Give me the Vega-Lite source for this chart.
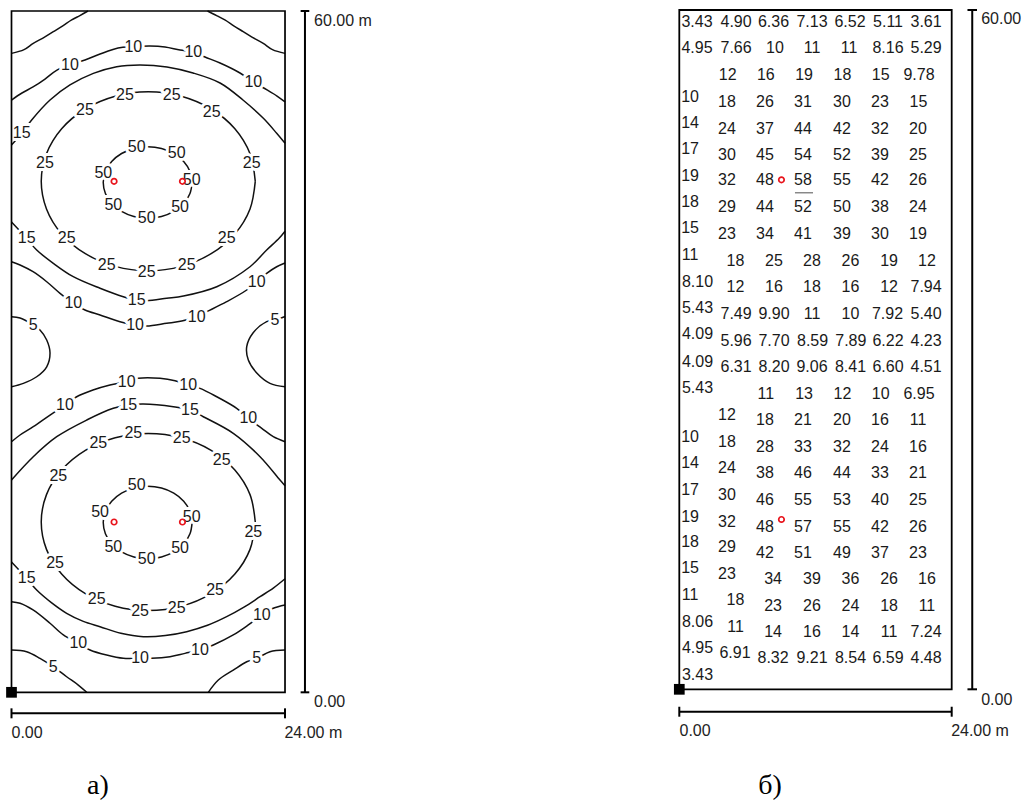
{
"$schema": "https://vega.github.io/schema/vega-lite/v6.json",
"padding": 0,
"spacing": 0,
"bounds": "flush",
"background": "white",
"config": {"view": {"stroke": null}},
"datasets": {
"contA": [
{"c":"t5l","o":1,"x":0,"y":56.27},{"c":"t5l","o":2,"x":1.1,"y":56.6},{"c":"t5l","o":3,"x":1.91,"y":57.15},{"c":"t5l","o":4,"x":2.9,"y":57.7},{"c":"t5l","o":5,"x":3.67,"y":58.18},{"c":"t5l","o":6,"x":4.5,"y":58.7},{"c":"t5l","o":7,"x":5.28,"y":59.21},{"c":"t5l","o":8,"x":6.0,"y":59.6},{"c":"t5l","o":9,"x":6.71,"y":60},
{"c":"t5r","o":1,"x":17.2,"y":60},{"c":"t5r","o":2,"x":18.0,"y":59.6},{"c":"t5r","o":3,"x":18.72,"y":59.21},{"c":"t5r","o":4,"x":19.5,"y":58.7},{"c":"t5r","o":5,"x":20.33,"y":58.18},{"c":"t5r","o":6,"x":21.1,"y":57.7},{"c":"t5r","o":7,"x":22.09,"y":57.15},{"c":"t5r","o":8,"x":22.9,"y":56.6},{"c":"t5r","o":9,"x":24,"y":56.27},
{"c":"t10","o":1,"x":0,"y":52.16},{"c":"t10","o":2,"x":0.92,"y":52.78},{"c":"t10","o":3,"x":1.89,"y":53.31},{"c":"t10","o":4,"x":2.94,"y":54.01},{"c":"t10","o":5,"x":3.99,"y":54.8},{"c":"t10","o":6,"x":5.13,"y":55.25},{"c":"t10","o":7,"x":6.45,"y":55.68},{"c":"t10","o":8,"x":7.77,"y":56.21},{"c":"t10","o":9,"x":9.35,"y":56.74},{"c":"t10","o":10,"x":10.66,"y":56.86},{"c":"t10","o":11,"x":12.15,"y":56.92},{"c":"t10","o":12,"x":13.47,"y":56.83},{"c":"t10","o":13,"x":14.79,"y":56.56},{"c":"t10","o":14,"x":15.93,"y":56.39},{"c":"t10","o":15,"x":16.98,"y":55.95},{"c":"t10","o":16,"x":18.3,"y":55.42},{"c":"t10","o":17,"x":20.05,"y":54.54},{"c":"t10","o":18,"x":21.19,"y":53.75},{"c":"t10","o":19,"x":22.42,"y":53.05},{"c":"t10","o":20,"x":23.3,"y":52.51},{"c":"t10","o":21,"x":24,"y":51.99},
{"c":"t15a","o":1,"x":0,"y":48.2},{"c":"t15a","o":2,"x":0.9,"y":49.23},{"c":"t15a","o":3,"x":1.77,"y":50.4},{"c":"t15a","o":4,"x":3.38,"y":52.16},{"c":"t15a","o":5,"x":5.13,"y":53.49},{"c":"t15a","o":6,"x":7.18,"y":54.51},{"c":"t15a","o":7,"x":9.23,"y":55.1},{"c":"t15a","o":8,"x":11.28,"y":55.25},{"c":"t15a","o":9,"x":13.64,"y":55.07},{"c":"t15a","o":10,"x":15.93,"y":54.54},{"c":"t15a","o":11,"x":18.3,"y":53.66},{"c":"t15a","o":12,"x":20.31,"y":52.16},{"c":"t15a","o":13,"x":22.1,"y":50.55},{"c":"t15a","o":14,"x":23.27,"y":49.23},{"c":"t15a","o":15,"x":24,"y":48.35},
{"c":"t25","o":1,"x":21.39,"y":45},{"c":"t25","o":2,"x":20.93,"y":47.43},{"c":"t25","o":3,"x":19.6,"y":49.63},{"c":"t25","o":4,"x":17.52,"y":51.37},{"c":"t25","o":5,"x":14.9,"y":52.49},{"c":"t25","o":6,"x":12,"y":52.88},{"c":"t25","o":7,"x":9.1,"y":52.49},{"c":"t25","o":8,"x":6.48,"y":51.37},{"c":"t25","o":9,"x":4.4,"y":49.63},{"c":"t25","o":10,"x":3.07,"y":47.43},{"c":"t25","o":11,"x":2.61,"y":45},{"c":"t25","o":12,"x":3.07,"y":42.57},{"c":"t25","o":13,"x":4.4,"y":40.37},{"c":"t25","o":14,"x":6.48,"y":38.63},{"c":"t25","o":15,"x":9.1,"y":37.51},{"c":"t25","o":16,"x":12,"y":37.12},{"c":"t25","o":17,"x":14.9,"y":37.51},{"c":"t25","o":18,"x":17.52,"y":38.63},{"c":"t25","o":19,"x":19.6,"y":40.37},{"c":"t25","o":20,"x":20.93,"y":42.57},{"c":"t25","o":21,"x":21.39,"y":45},
{"c":"t50","o":1,"x":15.85,"y":44.9},{"c":"t50","o":2,"x":15.66,"y":45.87},{"c":"t50","o":3,"x":15.11,"y":46.75},{"c":"t50","o":4,"x":14.24,"y":47.45},{"c":"t50","o":5,"x":13.16,"y":47.9},{"c":"t50","o":6,"x":11.95,"y":48.05},{"c":"t50","o":7,"x":10.74,"y":47.9},{"c":"t50","o":8,"x":9.66,"y":47.45},{"c":"t50","o":9,"x":8.79,"y":46.75},{"c":"t50","o":10,"x":8.24,"y":45.87},{"c":"t50","o":11,"x":8.05,"y":44.9},{"c":"t50","o":12,"x":8.24,"y":43.93},{"c":"t50","o":13,"x":8.79,"y":43.05},{"c":"t50","o":14,"x":9.66,"y":42.35},{"c":"t50","o":15,"x":10.74,"y":41.9},{"c":"t50","o":16,"x":11.95,"y":41.75},{"c":"t50","o":17,"x":13.16,"y":41.9},{"c":"t50","o":18,"x":14.24,"y":42.35},{"c":"t50","o":19,"x":15.11,"y":43.05},{"c":"t50","o":20,"x":15.66,"y":43.93},{"c":"t50","o":21,"x":15.85,"y":44.9},
{"c":"t15b","o":1,"x":0,"y":41.42},{"c":"t15b","o":2,"x":1.33,"y":39.98},{"c":"t15b","o":3,"x":2.21,"y":38.95},{"c":"t15b","o":4,"x":3.67,"y":37.78},{"c":"t15b","o":5,"x":5.42,"y":36.6},{"c":"t15b","o":6,"x":7.77,"y":35.58},{"c":"t15b","o":7,"x":9.81,"y":34.84},{"c":"t15b","o":8,"x":10.99,"y":34.55},{"c":"t15b","o":9,"x":11.86,"y":34.49},{"c":"t15b","o":10,"x":13.62,"y":34.7},{"c":"t15b","o":11,"x":15.08,"y":34.9},{"c":"t15b","o":12,"x":18.01,"y":35.72},{"c":"t15b","o":13,"x":20.93,"y":37.48},{"c":"t15b","o":14,"x":22.39,"y":38.95},{"c":"t15b","o":15,"x":23.5,"y":40.0},{"c":"t15b","o":16,"x":24,"y":40.6},
{"c":"t10b","o":1,"x":0,"y":37.92},{"c":"t10b","o":2,"x":0.75,"y":37.63},{"c":"t10b","o":3,"x":1.89,"y":37.04},{"c":"t10b","o":4,"x":3.09,"y":36.16},{"c":"t10b","o":5,"x":4.26,"y":35.14},{"c":"t10b","o":6,"x":5.42,"y":34.26},{"c":"t10b","o":7,"x":6.45,"y":33.67},{"c":"t10b","o":8,"x":7.77,"y":33.23},{"c":"t10b","o":9,"x":9.52,"y":32.64},{"c":"t10b","o":10,"x":10.84,"y":32.35},{"c":"t10b","o":11,"x":11.86,"y":32.26},{"c":"t10b","o":12,"x":13.62,"y":32.5},{"c":"t10b","o":13,"x":14.94,"y":32.7},{"c":"t10b","o":14,"x":16.25,"y":33.08},{"c":"t10b","o":15,"x":17.13,"y":33.52},{"c":"t10b","o":16,"x":18.88,"y":34.4},{"c":"t10b","o":17,"x":20.64,"y":35.43},{"c":"t10b","o":18,"x":21.52,"y":36.16},{"c":"t10b","o":19,"x":22.39,"y":36.9},{"c":"t10b","o":20,"x":23.27,"y":37.48},{"c":"t10b","o":21,"x":24,"y":37.81},
{"c":"m5l","o":1,"x":0,"y":33.08},{"c":"m5l","o":2,"x":0.75,"y":32.96},{"c":"m5l","o":3,"x":1.91,"y":32.35},{"c":"m5l","o":4,"x":2.5,"y":31.91},{"c":"m5l","o":5,"x":3.09,"y":31.03},{"c":"m5l","o":6,"x":3.38,"y":29.88},{"c":"m5l","o":7,"x":3.09,"y":28.67},{"c":"m5l","o":8,"x":2.21,"y":27.79},{"c":"m5l","o":9,"x":1.04,"y":27.21},{"c":"m5l","o":10,"x":0,"y":26.91},
{"c":"m5r","o":1,"x":24,"y":33.1},{"c":"m5r","o":2,"x":23.12,"y":32.79},{"c":"m5r","o":3,"x":22.39,"y":32.64},{"c":"m5r","o":4,"x":21.19,"y":31.64},{"c":"m5r","o":5,"x":20.64,"y":30.44},{"c":"m5r","o":6,"x":20.78,"y":29.26},{"c":"m5r","o":7,"x":21.52,"y":28.12},{"c":"m5r","o":8,"x":22.68,"y":27.21},{"c":"m5r","o":9,"x":24,"y":26.91},
{"c":"b10a","o":1,"x":0,"y":22.07},{"c":"b10a","o":2,"x":0.75,"y":22.66},{"c":"b10a","o":3,"x":1.91,"y":23.39},{"c":"b10a","o":4,"x":3.38,"y":24.42},{"c":"b10a","o":5,"x":4.69,"y":25.3},{"c":"b10a","o":6,"x":5.72,"y":26.03},{"c":"b10a","o":7,"x":7.15,"y":26.62},{"c":"b10a","o":8,"x":8.64,"y":27.06},{"c":"b10a","o":9,"x":10.11,"y":27.35},{"c":"b10a","o":10,"x":11.13,"y":27.65},{"c":"b10a","o":11,"x":13.03,"y":27.65},{"c":"b10a","o":12,"x":14.35,"y":27.44},{"c":"b10a","o":13,"x":15.51,"y":27.06},{"c":"b10a","o":14,"x":16.54,"y":26.77},{"c":"b10a","o":15,"x":18.01,"y":26.03},{"c":"b10a","o":16,"x":19.76,"y":25.01},{"c":"b10a","o":17,"x":20.78,"y":24.13},{"c":"b10a","o":18,"x":21.96,"y":23.25},{"c":"b10a","o":19,"x":22.97,"y":22.51},{"c":"b10a","o":20,"x":24,"y":22.07},
{"c":"b15a","o":1,"x":0,"y":18.7},{"c":"b15a","o":2,"x":1.91,"y":20.75},{"c":"b15a","o":3,"x":3.97,"y":22.51},{"c":"b15a","o":4,"x":6.6,"y":23.98},{"c":"b15a","o":5,"x":8.93,"y":25.01},{"c":"b15a","o":6,"x":10.25,"y":25.3},{"c":"b15a","o":7,"x":11.57,"y":25.39},{"c":"b15a","o":8,"x":14.2,"y":25.15},{"c":"b15a","o":9,"x":15.66,"y":24.86},{"c":"b15a","o":10,"x":16.83,"y":24.27},{"c":"b15a","o":11,"x":19.46,"y":22.81},{"c":"b15a","o":12,"x":21.81,"y":20.75},{"c":"b15a","o":13,"x":23.56,"y":18.7},{"c":"b15a","o":14,"x":24,"y":18.2},
{"c":"b25","o":1,"x":21.39,"y":15},{"c":"b25","o":2,"x":20.93,"y":17.41},{"c":"b25","o":3,"x":19.6,"y":19.58},{"c":"b25","o":4,"x":17.52,"y":21.31},{"c":"b25","o":5,"x":14.9,"y":22.42},{"c":"b25","o":6,"x":12,"y":22.8},{"c":"b25","o":7,"x":9.1,"y":22.42},{"c":"b25","o":8,"x":6.48,"y":21.31},{"c":"b25","o":9,"x":4.4,"y":19.58},{"c":"b25","o":10,"x":3.07,"y":17.41},{"c":"b25","o":11,"x":2.61,"y":15},{"c":"b25","o":12,"x":3.07,"y":12.59},{"c":"b25","o":13,"x":4.4,"y":10.42},{"c":"b25","o":14,"x":6.48,"y":8.69},{"c":"b25","o":15,"x":9.1,"y":7.58},{"c":"b25","o":16,"x":12,"y":7.2},{"c":"b25","o":17,"x":14.9,"y":7.58},{"c":"b25","o":18,"x":17.52,"y":8.69},{"c":"b25","o":19,"x":19.6,"y":10.42},{"c":"b25","o":20,"x":20.93,"y":12.59},{"c":"b25","o":21,"x":21.39,"y":15},
{"c":"b50","o":1,"x":15.85,"y":14.95},{"c":"b50","o":2,"x":15.66,"y":15.94},{"c":"b50","o":3,"x":15.11,"y":16.83},{"c":"b50","o":4,"x":14.24,"y":17.54},{"c":"b50","o":5,"x":13.16,"y":17.99},{"c":"b50","o":6,"x":11.95,"y":18.15},{"c":"b50","o":7,"x":10.74,"y":17.99},{"c":"b50","o":8,"x":9.66,"y":17.54},{"c":"b50","o":9,"x":8.79,"y":16.83},{"c":"b50","o":10,"x":8.24,"y":15.94},{"c":"b50","o":11,"x":8.05,"y":14.95},{"c":"b50","o":12,"x":8.24,"y":13.96},{"c":"b50","o":13,"x":8.79,"y":13.07},{"c":"b50","o":14,"x":9.66,"y":12.36},{"c":"b50","o":15,"x":10.74,"y":11.91},{"c":"b50","o":16,"x":11.95,"y":11.75},{"c":"b50","o":17,"x":13.16,"y":11.91},{"c":"b50","o":18,"x":14.24,"y":12.36},{"c":"b50","o":19,"x":15.11,"y":13.07},{"c":"b50","o":20,"x":15.66,"y":13.96},{"c":"b50","o":21,"x":15.85,"y":14.95},
{"c":"b15b","o":1,"x":0,"y":11.48},{"c":"b15b","o":2,"x":1.33,"y":10.04},{"c":"b15b","o":3,"x":2.21,"y":9.01},{"c":"b15b","o":4,"x":3.5,"y":7.9},{"c":"b15b","o":5,"x":4.84,"y":6.96},{"c":"b15b","o":6,"x":6.3,"y":6.25},{"c":"b15b","o":7,"x":7.77,"y":5.78},{"c":"b15b","o":8,"x":9.6,"y":5.2},{"c":"b15b","o":9,"x":11.57,"y":4.9},{"c":"b15b","o":10,"x":13.5,"y":5.0},{"c":"b15b","o":11,"x":15.37,"y":5.34},{"c":"b15b","o":12,"x":17.2,"y":5.9},{"c":"b15b","o":13,"x":18.88,"y":6.66},{"c":"b15b","o":14,"x":20.4,"y":7.5},{"c":"b15b","o":15,"x":21.81,"y":8.42},{"c":"b15b","o":16,"x":23.0,"y":9.2},{"c":"b15b","o":17,"x":24,"y":10.0},
{"c":"b10b","o":1,"x":0,"y":7.98},{"c":"b10b","o":2,"x":0.75,"y":7.84},{"c":"b10b","o":3,"x":1.89,"y":7.25},{"c":"b10b","o":4,"x":3.38,"y":6.08},{"c":"b10b","o":5,"x":4.55,"y":5.05},{"c":"b10b","o":6,"x":5.86,"y":4.32},{"c":"b10b","o":7,"x":6.89,"y":3.73},{"c":"b10b","o":8,"x":8.35,"y":3.28},{"c":"b10b","o":9,"x":9.81,"y":2.99},{"c":"b10b","o":10,"x":11.28,"y":2.99},{"c":"b10b","o":11,"x":12.3,"y":2.99},{"c":"b10b","o":12,"x":13.91,"y":3.14},{"c":"b10b","o":13,"x":15.22,"y":3.43},{"c":"b10b","o":14,"x":16.54,"y":3.73},{"c":"b10b","o":15,"x":17.71,"y":4.17},{"c":"b10b","o":16,"x":19.46,"y":5.05},{"c":"b10b","o":17,"x":20.78,"y":5.93},{"c":"b10b","o":18,"x":21.96,"y":6.81},{"c":"b10b","o":19,"x":22.97,"y":7.4},{"c":"b10b","o":20,"x":24,"y":7.69},
{"c":"b5l","o":1,"x":0,"y":3.73},{"c":"b5l","o":2,"x":1.33,"y":3.58},{"c":"b5l","o":3,"x":2.5,"y":2.99},{"c":"b5l","o":4,"x":3.67,"y":2.25},{"c":"b5l","o":5,"x":4.84,"y":1.37},{"c":"b5l","o":6,"x":5.86,"y":0.64},{"c":"b5l","o":7,"x":6.6,"y":0},
{"c":"b5r","o":1,"x":17.27,"y":0},{"c":"b5r","o":2,"x":18.15,"y":1.08},{"c":"b5r","o":3,"x":19.46,"y":1.96},{"c":"b5r","o":4,"x":20.64,"y":2.69},{"c":"b5r","o":5,"x":21.52,"y":2.99},{"c":"b5r","o":6,"x":22.68,"y":3.58},{"c":"b5r","o":7,"x":24,"y":3.73}
],
"labA": [
{"t":"10","x":5.13,"y":55.25},{"t":"10","x":10.69,"y":56.86},{"t":"10","x":15.95,"y":56.41},{"t":"10","x":21.22,"y":53.77},
{"t":"25","x":9.96,"y":52.61},{"t":"25","x":14.06,"y":52.61},{"t":"25","x":6.45,"y":51.29},{"t":"25","x":17.57,"y":51.13},
{"t":"15","x":0.9,"y":49.23},{"t":"25","x":2.94,"y":46.59},{"t":"25","x":21.08,"y":46.59},
{"t":"50","x":10.99,"y":48.05},{"t":"50","x":14.5,"y":47.47},{"t":"50","x":8.06,"y":45.71},{"t":"50","x":15.81,"y":45.12},{"t":"50","x":8.93,"y":42.92},{"t":"50","x":14.79,"y":42.77},{"t":"50","x":11.86,"y":41.74},
{"t":"15","x":1.33,"y":39.98},{"t":"25","x":4.84,"y":39.98},{"t":"25","x":18.88,"y":39.98},
{"t":"25","x":8.35,"y":37.63},{"t":"25","x":11.86,"y":37.04},{"t":"25","x":15.37,"y":37.63},
{"t":"15","x":10.99,"y":34.55},{"t":"10","x":5.42,"y":34.26},{"t":"10","x":10.84,"y":32.35},{"t":"10","x":16.25,"y":33.08},{"t":"10","x":21.52,"y":36.16},
{"t":"5","x":1.91,"y":32.35},{"t":"5","x":23.12,"y":32.79},
{"t":"10","x":10.11,"y":27.35},{"t":"10","x":15.51,"y":27.06},{"t":"10","x":4.69,"y":25.3},{"t":"10","x":20.78,"y":24.13},
{"t":"15","x":10.25,"y":25.3},{"t":"15","x":15.66,"y":24.86},
{"t":"25","x":10.69,"y":22.86},{"t":"25","x":14.94,"y":22.37},{"t":"25","x":7.62,"y":21.98},{"t":"25","x":18.44,"y":20.46},{"t":"25","x":4.11,"y":19.05},
{"t":"50","x":10.99,"y":18.26},{"t":"50","x":7.77,"y":15.9},{"t":"50","x":15.81,"y":15.46},{"t":"25","x":21.22,"y":14.14},
{"t":"50","x":8.93,"y":12.82},{"t":"50","x":14.79,"y":12.68},{"t":"50","x":11.86,"y":11.71},
{"t":"25","x":3.82,"y":11.36},{"t":"15","x":1.33,"y":10.04},
{"t":"25","x":7.48,"y":8.19},{"t":"25","x":11.28,"y":7.19},{"t":"25","x":14.5,"y":7.4},{"t":"25","x":17.86,"y":9.01},
{"t":"10","x":5.86,"y":4.32},{"t":"10","x":11.28,"y":2.99},{"t":"10","x":16.54,"y":3.73},{"t":"10","x":21.96,"y":6.81},
{"t":"5","x":3.67,"y":2.25},{"t":"5","x":21.52,"y":2.99}
],
"lumA": [{"x":9,"y":45},{"x":15,"y":45},{"x":9,"y":15},{"x":15,"y":15}],
"lumB": [{"x":9,"y":45},{"x":9,"y":15}],
"gridB": [
{"t":"3.43","x":1.56,"y":58.97},{"t":"4.90","x":5.0,"y":58.97},{"t":"6.36","x":8.3,"y":58.97},{"t":"7.13","x":11.69,"y":58.97},{"t":"6.52","x":15.04,"y":58.97},{"t":"5.11","x":18.39,"y":58.97},{"t":"3.61","x":21.74,"y":58.97},
{"t":"4.95","x":1.56,"y":56.62},{"t":"7.66","x":5.0,"y":56.62},{"t":"10","x":8.43,"y":56.62},{"t":"11","x":11.69,"y":56.62},{"t":"11","x":14.95,"y":56.62},{"t":"8.16","x":18.39,"y":56.62},{"t":"5.29","x":21.74,"y":56.62},
{"t":"12","x":4.26,"y":54.26},{"t":"16","x":7.62,"y":54.26},{"t":"19","x":10.99,"y":54.26},{"t":"18","x":14.38,"y":54.26},{"t":"15","x":17.75,"y":54.26},{"t":"9.78","x":21.12,"y":54.26},
{"t":"10","x":0.95,"y":52.34},{"t":"18","x":4.2,"y":51.9},{"t":"26","x":7.55,"y":51.9},{"t":"31","x":10.9,"y":51.9},{"t":"30","x":14.33,"y":51.9},{"t":"23","x":17.68,"y":51.9},{"t":"15","x":21.07,"y":51.9},
{"t":"14","x":0.95,"y":49.99},{"t":"24","x":4.2,"y":49.49},{"t":"37","x":7.55,"y":49.49},{"t":"44","x":10.9,"y":49.49},{"t":"42","x":14.33,"y":49.49},{"t":"32","x":17.68,"y":49.49},{"t":"20","x":21.03,"y":49.49},
{"t":"17","x":0.95,"y":47.72},{"t":"30","x":4.2,"y":47.19},{"t":"45","x":7.55,"y":47.19},{"t":"54","x":10.9,"y":47.19},{"t":"52","x":14.33,"y":47.19},{"t":"39","x":17.68,"y":47.19},{"t":"25","x":21.03,"y":47.19},
{"t":"19","x":0.95,"y":45.36},{"t":"32","x":4.2,"y":44.98},{"t":"48","x":7.55,"y":44.98},{"t":"58","x":10.9,"y":44.98},{"t":"55","x":14.33,"y":44.98},{"t":"42","x":17.68,"y":44.98},{"t":"26","x":21.03,"y":44.98},
{"t":"18","x":0.95,"y":43.07},{"t":"29","x":4.2,"y":42.57},{"t":"44","x":7.55,"y":42.57},{"t":"52","x":10.9,"y":42.57},{"t":"50","x":14.33,"y":42.57},{"t":"38","x":17.68,"y":42.57},{"t":"24","x":21.03,"y":42.57},
{"t":"15","x":0.95,"y":40.72},{"t":"23","x":4.2,"y":40.21},{"t":"34","x":7.55,"y":40.21},{"t":"41","x":10.9,"y":40.21},{"t":"39","x":14.33,"y":40.21},{"t":"30","x":17.68,"y":40.21},{"t":"19","x":21.03,"y":40.21},
{"t":"11","x":0.95,"y":38.36},{"t":"18","x":4.95,"y":37.86},{"t":"25","x":8.34,"y":37.86},{"t":"28","x":11.69,"y":37.86},{"t":"26","x":15.08,"y":37.86},{"t":"19","x":18.48,"y":37.86},{"t":"12","x":21.82,"y":37.86},
{"t":"8.10","x":1.6,"y":36.0},{"t":"12","x":4.95,"y":35.51},{"t":"16","x":8.34,"y":35.51},{"t":"18","x":11.69,"y":35.51},{"t":"16","x":15.08,"y":35.51},{"t":"12","x":18.48,"y":35.51},{"t":"7.94","x":21.74,"y":35.51},
{"t":"5.43","x":1.6,"y":33.65},{"t":"7.49","x":5.0,"y":33.15},{"t":"9.90","x":8.34,"y":33.15},{"t":"11","x":11.69,"y":33.15},{"t":"10","x":15.08,"y":33.15},{"t":"7.92","x":18.34,"y":33.15},{"t":"5.40","x":21.74,"y":33.15},
{"t":"4.09","x":1.6,"y":31.38},{"t":"5.96","x":5.0,"y":30.79},{"t":"7.70","x":8.34,"y":30.79},{"t":"8.59","x":11.74,"y":30.79},{"t":"7.89","x":15.11,"y":30.79},{"t":"6.22","x":18.39,"y":30.79},{"t":"4.23","x":21.74,"y":30.79},
{"t":"4.09","x":1.6,"y":28.94},{"t":"6.31","x":5.0,"y":28.49},{"t":"8.20","x":8.34,"y":28.49},{"t":"9.06","x":11.69,"y":28.49},{"t":"8.41","x":15.08,"y":28.49},{"t":"6.60","x":18.39,"y":28.49},{"t":"4.51","x":21.74,"y":28.49},
{"t":"5.43","x":1.6,"y":26.59},{"t":"11","x":7.62,"y":26.06},{"t":"13","x":10.99,"y":26.06},{"t":"12","x":14.38,"y":26.06},{"t":"10","x":17.75,"y":26.06},{"t":"6.95","x":21.12,"y":26.06},
{"t":"12","x":4.2,"y":24.23},{"t":"18","x":7.55,"y":23.79},{"t":"21","x":10.9,"y":23.79},{"t":"20","x":14.33,"y":23.79},{"t":"16","x":17.68,"y":23.79},{"t":"11","x":21.03,"y":23.79},
{"t":"10","x":0.95,"y":22.31},{"t":"18","x":4.2,"y":21.87},{"t":"28","x":7.55,"y":21.43},{"t":"33","x":10.9,"y":21.43},{"t":"32","x":14.33,"y":21.43},{"t":"24","x":17.68,"y":21.43},{"t":"16","x":21.03,"y":21.43},
{"t":"14","x":0.95,"y":19.96},{"t":"24","x":4.2,"y":19.52},{"t":"38","x":7.55,"y":19.08},{"t":"46","x":10.9,"y":19.08},{"t":"44","x":14.33,"y":19.08},{"t":"33","x":17.68,"y":19.08},{"t":"21","x":21.03,"y":19.08},
{"t":"17","x":0.95,"y":17.6},{"t":"30","x":4.2,"y":17.16},{"t":"46","x":7.55,"y":16.72},{"t":"55","x":10.9,"y":16.72},{"t":"53","x":14.33,"y":16.72},{"t":"40","x":17.68,"y":16.72},{"t":"25","x":21.03,"y":16.72},
{"t":"19","x":0.95,"y":15.24},{"t":"32","x":4.2,"y":14.8},{"t":"48","x":7.55,"y":14.36},{"t":"57","x":10.9,"y":14.36},{"t":"55","x":14.33,"y":14.36},{"t":"42","x":17.68,"y":14.36},{"t":"26","x":21.03,"y":14.36},
{"t":"18","x":0.95,"y":13.04},{"t":"29","x":4.2,"y":12.54},{"t":"42","x":7.55,"y":12.07},{"t":"51","x":10.9,"y":12.07},{"t":"49","x":14.33,"y":12.07},{"t":"37","x":17.68,"y":12.07},{"t":"23","x":21.03,"y":12.07},
{"t":"15","x":0.95,"y":10.69},{"t":"23","x":4.2,"y":10.18},{"t":"34","x":8.26,"y":9.72},{"t":"39","x":11.69,"y":9.72},{"t":"36","x":15.08,"y":9.72},{"t":"26","x":18.48,"y":9.72},{"t":"16","x":21.82,"y":9.72},
{"t":"11","x":0.95,"y":8.33},{"t":"18","x":4.95,"y":7.89},{"t":"23","x":8.26,"y":7.36},{"t":"26","x":11.69,"y":7.36},{"t":"24","x":15.08,"y":7.36},{"t":"18","x":18.48,"y":7.36},{"t":"11","x":21.82,"y":7.36},
{"t":"8.06","x":1.6,"y":5.97},{"t":"11","x":4.95,"y":5.53},{"t":"14","x":8.26,"y":5.09},{"t":"16","x":11.69,"y":5.09},{"t":"14","x":15.08,"y":5.09},{"t":"11","x":18.48,"y":5.09},{"t":"7.24","x":21.74,"y":5.09},
{"t":"4.95","x":1.6,"y":3.62},{"t":"6.91","x":4.91,"y":3.18},{"t":"8.32","x":8.26,"y":2.74},{"t":"9.21","x":11.69,"y":2.74},{"t":"8.54","x":15.08,"y":2.74},{"t":"6.59","x":18.39,"y":2.74},{"t":"4.48","x":21.74,"y":2.74},
{"t":"3.43","x":1.6,"y":1.26}
]
},
"hconcat": [
{
"width": 515, "height": 812,
"layer": [
{"data":{"name":"contA"},"mark":{"type":"line","stroke":"#111","strokeWidth":1.5,"interpolate":"catmull-rom"},
 "encoding":{"x":{"field":"x","type":"quantitative","scale":{"domain":[-1.009,44.18],"nice":false,"zero":false},"axis":null},
 "y":{"field":"y","type":"quantitative","scale":{"domain":[-10.54,60.969],"nice":false,"zero":false},"axis":null},
 "detail":{"field":"c"},"order":{"field":"o","type":"quantitative"}}},
{"data":{"name":"labA"},"mark":{"type":"text","font":"Liberation Sans","fontSize":16,"fill":"white","stroke":"white","strokeWidth":6,"strokeJoin":"round","align":"center","baseline":"middle"},
 "encoding":{"x":{"field":"x","type":"quantitative","scale":{"domain":[-1.009,44.18],"nice":false,"zero":false},"axis":null},
 "y":{"field":"y","type":"quantitative","scale":{"domain":[-10.54,60.969],"nice":false,"zero":false},"axis":null},"text":{"field":"t"}}},
{"data":{"name":"labA"},"mark":{"type":"text","font":"Liberation Sans","fontSize":16,"fill":"#1a1a1a","align":"center","baseline":"middle"},
 "encoding":{"x":{"field":"x","type":"quantitative","scale":{"domain":[-1.009,44.18],"nice":false,"zero":false},"axis":null},
 "y":{"field":"y","type":"quantitative","scale":{"domain":[-10.54,60.969],"nice":false,"zero":false},"axis":null},"text":{"field":"t"}}},
{"data":{"values":[{}]},"mark":{"type":"rect","filled":false,"stroke":"#000","strokeWidth":1.7},
 "encoding":{"x":{"datum":0,"type":"quantitative","scale":{"domain":[-1.009,44.18],"nice":false,"zero":false},"axis":null},"x2":{"datum":24},
 "y":{"datum":0,"type":"quantitative","scale":{"domain":[-10.54,60.969],"nice":false,"zero":false},"axis":null},"y2":{"datum":60}}},
{"data":{"name":"lumA"},"mark":{"type":"point","filled":false,"stroke":"#e8141c","strokeWidth":1.7,"size":30,"opacity":1},
 "encoding":{"x":{"field":"x","type":"quantitative","scale":{"domain":[-1.009,44.18],"nice":false,"zero":false},"axis":null},
 "y":{"field":"y","type":"quantitative","scale":{"domain":[-10.54,60.969],"nice":false,"zero":false},"axis":null}}},
{"data":{"values":[{}]},"mark":{"type":"rule","stroke":"#000","strokeWidth":2},
 "encoding":{"x":{"datum":25.75,"type":"quantitative","scale":{"domain":[-1.009,44.18],"nice":false,"zero":false},"axis":null},
 "y":{"datum":0,"type":"quantitative","scale":{"domain":[-10.54,60.969],"nice":false,"zero":false},"axis":null},"y2":{"datum":60}}},
{"data":{"values":[{}]},"mark":{"type":"rule","stroke":"#000","strokeWidth":2},
 "encoding":{"x":{"datum":25.37,"type":"quantitative","scale":{"domain":[-1.009,44.18],"nice":false,"zero":false},"axis":null},"x2":{"datum":26.13},
 "y":{"datum":60,"type":"quantitative","scale":{"domain":[-10.54,60.969],"nice":false,"zero":false},"axis":null}}},
{"data":{"values":[{}]},"mark":{"type":"rule","stroke":"#000","strokeWidth":2},
 "encoding":{"x":{"datum":25.37,"type":"quantitative","scale":{"domain":[-1.009,44.18],"nice":false,"zero":false},"axis":null},"x2":{"datum":26.13},
 "y":{"datum":0,"type":"quantitative","scale":{"domain":[-10.54,60.969],"nice":false,"zero":false},"axis":null}}},
{"data":{"values":[{}]},"mark":{"type":"rule","stroke":"#000","strokeWidth":2},
 "encoding":{"x":{"datum":0,"type":"quantitative","scale":{"domain":[-1.009,44.18],"nice":false,"zero":false},"axis":null},"x2":{"datum":24},
 "y":{"datum":-1.85,"type":"quantitative","scale":{"domain":[-10.54,60.969],"nice":false,"zero":false},"axis":null}}},
{"data":{"values":[{}]},"mark":{"type":"rule","stroke":"#000","strokeWidth":2},
 "encoding":{"x":{"datum":0,"type":"quantitative","scale":{"domain":[-1.009,44.18],"nice":false,"zero":false},"axis":null},
 "y":{"datum":-2.29,"type":"quantitative","scale":{"domain":[-10.54,60.969],"nice":false,"zero":false},"axis":null},"y2":{"datum":-1.41}}},
{"data":{"values":[{}]},"mark":{"type":"rule","stroke":"#000","strokeWidth":2},
 "encoding":{"x":{"datum":24,"type":"quantitative","scale":{"domain":[-1.009,44.18],"nice":false,"zero":false},"axis":null},
 "y":{"datum":-2.29,"type":"quantitative","scale":{"domain":[-10.54,60.969],"nice":false,"zero":false},"axis":null},"y2":{"datum":-1.41}}},
{"data":{"values":[{}]},"mark":{"type":"text","text":"60.00 m","font":"Liberation Sans","fontSize":16,"fill":"#222","align":"left","baseline":"middle"},
 "encoding":{"x":{"datum":26.55,"type":"quantitative","scale":{"domain":[-1.009,44.18],"nice":false,"zero":false},"axis":null},
 "y":{"datum":59.16,"type":"quantitative","scale":{"domain":[-10.54,60.969],"nice":false,"zero":false},"axis":null}}},
{"data":{"values":[{}]},"mark":{"type":"text","text":"0.00","font":"Liberation Sans","fontSize":16,"fill":"#222","align":"left","baseline":"middle"},
 "encoding":{"x":{"datum":26.55,"type":"quantitative","scale":{"domain":[-1.009,44.18],"nice":false,"zero":false},"axis":null},
 "y":{"datum":-0.88,"type":"quantitative","scale":{"domain":[-10.54,60.969],"nice":false,"zero":false},"axis":null}}},
{"data":{"values":[{}]},"mark":{"type":"text","text":"0.00","font":"Liberation Sans","fontSize":16,"fill":"#222","align":"left","baseline":"middle"},
 "encoding":{"x":{"datum":0.0,"type":"quantitative","scale":{"domain":[-1.009,44.18],"nice":false,"zero":false},"axis":null},
 "y":{"datum":-3.61,"type":"quantitative","scale":{"domain":[-10.54,60.969],"nice":false,"zero":false},"axis":null}}},
{"data":{"values":[{}]},"mark":{"type":"text","text":"24.00 m","font":"Liberation Sans","fontSize":16,"fill":"#222","align":"left","baseline":"middle"},
 "encoding":{"x":{"datum":23.95,"type":"quantitative","scale":{"domain":[-1.009,44.18],"nice":false,"zero":false},"axis":null},
 "y":{"datum":-3.61,"type":"quantitative","scale":{"domain":[-10.54,60.969],"nice":false,"zero":false},"axis":null}}},
{"data":{"values":[{}]},"mark":{"type":"text","text":"а)","font":"Liberation Serif","fontSize":28,"fill":"#000","align":"center","baseline":"middle"},
 "encoding":{"x":{"datum":7.59,"type":"quantitative","scale":{"domain":[-1.009,44.18],"nice":false,"zero":false},"axis":null},
 "y":{"datum":-8.25,"type":"quantitative","scale":{"domain":[-10.54,60.969],"nice":false,"zero":false},"axis":null}}},
{"data":{"values":[{}]},"mark":{"type":"point","shape":"square","filled":true,"color":"#000","size":115,"opacity":1},
 "encoding":{"x":{"datum":0,"type":"quantitative","scale":{"domain":[-1.009,44.18],"nice":false,"zero":false},"axis":null},
 "y":{"datum":0,"type":"quantitative","scale":{"domain":[-10.54,60.969],"nice":false,"zero":false},"axis":null}}}
]
},
{
"width": 515, "height": 812,
"layer": [
{"data":{"values":[{}]},"mark":{"type":"rect","filled":false,"stroke":"#000","strokeWidth":1.8},
 "encoding":{"x":{"datum":0,"type":"quantitative","scale":{"domain":[-14.476,30.899],"nice":false,"zero":false},"axis":null},"x2":{"datum":24},
 "y":{"datum":0,"type":"quantitative","scale":{"domain":[-10.837,60.883],"nice":false,"zero":false},"axis":null},"y2":{"datum":60}}},
{"data":{"name":"gridB"},"mark":{"type":"text","font":"Liberation Sans","fontSize":16,"fill":"#1a1a1a","align":"center","baseline":"middle"},
 "encoding":{"x":{"field":"x","type":"quantitative","scale":{"domain":[-14.476,30.899],"nice":false,"zero":false},"axis":null},
 "y":{"field":"y","type":"quantitative","scale":{"domain":[-10.837,60.883],"nice":false,"zero":false},"axis":null},"text":{"field":"t"}}},
{"data":{"values":[{}]},"mark":{"type":"rule","stroke":"#888","strokeWidth":1.5},
 "encoding":{"x":{"datum":10.19,"type":"quantitative","scale":{"domain":[-14.476,30.899],"nice":false,"zero":false},"axis":null},"x2":{"datum":11.78},
 "y":{"datum":43.86,"type":"quantitative","scale":{"domain":[-10.837,60.883],"nice":false,"zero":false},"axis":null}}},
{"data":{"name":"lumB"},"mark":{"type":"point","filled":false,"stroke":"#e8141c","strokeWidth":1.7,"size":30,"opacity":1},
 "encoding":{"x":{"field":"x","type":"quantitative","scale":{"domain":[-14.476,30.899],"nice":false,"zero":false},"axis":null},
 "y":{"field":"y","type":"quantitative","scale":{"domain":[-10.837,60.883],"nice":false,"zero":false},"axis":null}}},
{"data":{"values":[{}]},"mark":{"type":"rule","stroke":"#000","strokeWidth":2},
 "encoding":{"x":{"datum":25.81,"type":"quantitative","scale":{"domain":[-14.476,30.899],"nice":false,"zero":false},"axis":null},
 "y":{"datum":0,"type":"quantitative","scale":{"domain":[-10.837,60.883],"nice":false,"zero":false},"axis":null},"y2":{"datum":60}}},
{"data":{"values":[{}]},"mark":{"type":"rule","stroke":"#000","strokeWidth":2},
 "encoding":{"x":{"datum":25.39,"type":"quantitative","scale":{"domain":[-14.476,30.899],"nice":false,"zero":false},"axis":null},"x2":{"datum":26.23},
 "y":{"datum":60,"type":"quantitative","scale":{"domain":[-10.837,60.883],"nice":false,"zero":false},"axis":null}}},
{"data":{"values":[{}]},"mark":{"type":"rule","stroke":"#000","strokeWidth":2},
 "encoding":{"x":{"datum":25.39,"type":"quantitative","scale":{"domain":[-14.476,30.899],"nice":false,"zero":false},"axis":null},"x2":{"datum":26.23},
 "y":{"datum":0,"type":"quantitative","scale":{"domain":[-10.837,60.883],"nice":false,"zero":false},"axis":null}}},
{"data":{"values":[{}]},"mark":{"type":"rule","stroke":"#000","strokeWidth":2},
 "encoding":{"x":{"datum":0,"type":"quantitative","scale":{"domain":[-14.476,30.899],"nice":false,"zero":false},"axis":null},"x2":{"datum":24},
 "y":{"datum":-1.98,"type":"quantitative","scale":{"domain":[-10.837,60.883],"nice":false,"zero":false},"axis":null}}},
{"data":{"values":[{}]},"mark":{"type":"rule","stroke":"#000","strokeWidth":2},
 "encoding":{"x":{"datum":0,"type":"quantitative","scale":{"domain":[-14.476,30.899],"nice":false,"zero":false},"axis":null},
 "y":{"datum":-2.42,"type":"quantitative","scale":{"domain":[-10.837,60.883],"nice":false,"zero":false},"axis":null},"y2":{"datum":-1.54}}},
{"data":{"values":[{}]},"mark":{"type":"rule","stroke":"#000","strokeWidth":2},
 "encoding":{"x":{"datum":24,"type":"quantitative","scale":{"domain":[-14.476,30.899],"nice":false,"zero":false},"axis":null},
 "y":{"datum":-2.42,"type":"quantitative","scale":{"domain":[-10.837,60.883],"nice":false,"zero":false},"axis":null},"y2":{"datum":-1.54}}},
{"data":{"values":[{}]},"mark":{"type":"text","text":"60.00","font":"Liberation Sans","fontSize":16,"fill":"#222","align":"left","baseline":"middle"},
 "encoding":{"x":{"datum":26.6,"type":"quantitative","scale":{"domain":[-14.476,30.899],"nice":false,"zero":false},"axis":null},
 "y":{"datum":59.2,"type":"quantitative","scale":{"domain":[-10.837,60.883],"nice":false,"zero":false},"axis":null}}},
{"data":{"values":[{}]},"mark":{"type":"text","text":"0.00","font":"Liberation Sans","fontSize":16,"fill":"#222","align":"left","baseline":"middle"},
 "encoding":{"x":{"datum":26.6,"type":"quantitative","scale":{"domain":[-14.476,30.899],"nice":false,"zero":false},"axis":null},
 "y":{"datum":-0.945,"type":"quantitative","scale":{"domain":[-10.837,60.883],"nice":false,"zero":false},"axis":null}}},
{"data":{"values":[{}]},"mark":{"type":"text","text":"0.00","font":"Liberation Sans","fontSize":16,"fill":"#222","align":"left","baseline":"middle"},
 "encoding":{"x":{"datum":0.02,"type":"quantitative","scale":{"domain":[-14.476,30.899],"nice":false,"zero":false},"axis":null},
 "y":{"datum":-3.66,"type":"quantitative","scale":{"domain":[-10.837,60.883],"nice":false,"zero":false},"axis":null}}},
{"data":{"values":[{}]},"mark":{"type":"text","text":"24.00 m","font":"Liberation Sans","fontSize":16,"fill":"#222","align":"left","baseline":"middle"},
 "encoding":{"x":{"datum":23.95,"type":"quantitative","scale":{"domain":[-14.476,30.899],"nice":false,"zero":false},"axis":null},
 "y":{"datum":-3.66,"type":"quantitative","scale":{"domain":[-10.837,60.883],"nice":false,"zero":false},"axis":null}}},
{"data":{"values":[{}]},"mark":{"type":"text","text":"б)","font":"Liberation Serif","fontSize":28,"fill":"#000","align":"center","baseline":"middle"},
 "encoding":{"x":{"datum":7.99,"type":"quantitative","scale":{"domain":[-14.476,30.899],"nice":false,"zero":false},"axis":null},
 "y":{"datum":-8.54,"type":"quantitative","scale":{"domain":[-10.837,60.883],"nice":false,"zero":false},"axis":null}}},
{"data":{"values":[{}]},"mark":{"type":"point","shape":"square","filled":true,"color":"#000","size":115,"opacity":1},
 "encoding":{"x":{"datum":0,"type":"quantitative","scale":{"domain":[-14.476,30.899],"nice":false,"zero":false},"axis":null},
 "y":{"datum":0,"type":"quantitative","scale":{"domain":[-10.837,60.883],"nice":false,"zero":false},"axis":null}}}
]
}
]
}
